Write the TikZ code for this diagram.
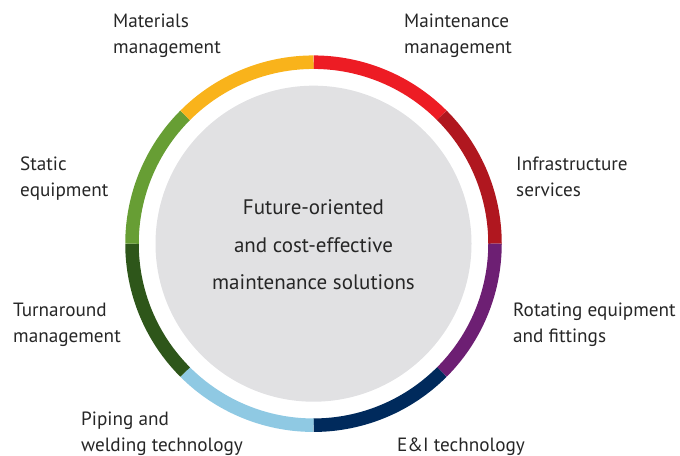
\documentclass[tikz,border=0pt]{standalone}
\usepackage{fontspec}
\setmainfont{PT Sans}
\usetikzlibrary{positioning}

\definecolor{segred}{HTML}{ED1C24}
\definecolor{segdarkred}{HTML}{B0171F}
\definecolor{segpurple}{HTML}{6D1F73}
\definecolor{segnavy}{HTML}{002A5C}
\definecolor{segblue}{HTML}{8FC9E3}
\definecolor{segdarkgreen}{HTML}{2E561A}
\definecolor{seggreen}{HTML}{679E34}
\definecolor{segyellow}{HTML}{F9B31B}
\definecolor{hubgrey}{HTML}{E1E1E3}
\definecolor{labeltext}{HTML}{262626}

\begin{document}
\begin{tikzpicture}[
    x=1bp, y=1bp,
    hub/.style={circle, fill=hubgrey, minimum size=316bp, inner sep=0pt},
    hubtext/.style={anchor=base, align=center, inner sep=0pt, text=labeltext, font=\fontsize{21bp}{37.5bp}\selectfont},
    label/.style={anchor=base west, align=left, inner sep=0pt, text=labeltext, font=\fontsize{19.2bp}{26.5bp}\selectfont},
    ring/.style={line width=13.5bp}
]
\useasboundingbox (0,0) rectangle (680,456);

% Hub
\node[hub] (hub) at (313.5,212.3) {};
\node[hubtext] (title) at (313.5,166) {Future-oriented\\and cost-effective\\maintenance solutions};

% Ring segments
\foreach \ang/\col in {90/segred, 45/segdarkred, 0/segpurple, -45/segnavy,
                       -90/segblue, -135/segdarkgreen, -180/seggreen, -225/segyellow}
  \draw[ring, draw=\col] (hub.center) ++(\ang:181.5) arc[start angle=\ang, end angle=\ang-45, radius=181.5];

% Labels (anchored at the baseline of the last line)
\node[label] (materials) at (113,402) {Materials\\management};
\node[label] (maintenance) at (404,402) {Maintenance\\management};
\node[label] (infra) at (516,259) {Infrastructure\\services};
\node[label] (static) at (20,259) {Static\\equipment};
\node[label] (turnaround) at (13,113.3) {Turnaround\\management};
\node[label] (rotating) at (513,113.3) {Rotating equipment\\and fittings};
\node[label] (piping) at (81,4) {Piping and\\welding technology};
\node[label] (eandi) at (397,4) {E\&I technology};

\end{tikzpicture}
\end{document}
